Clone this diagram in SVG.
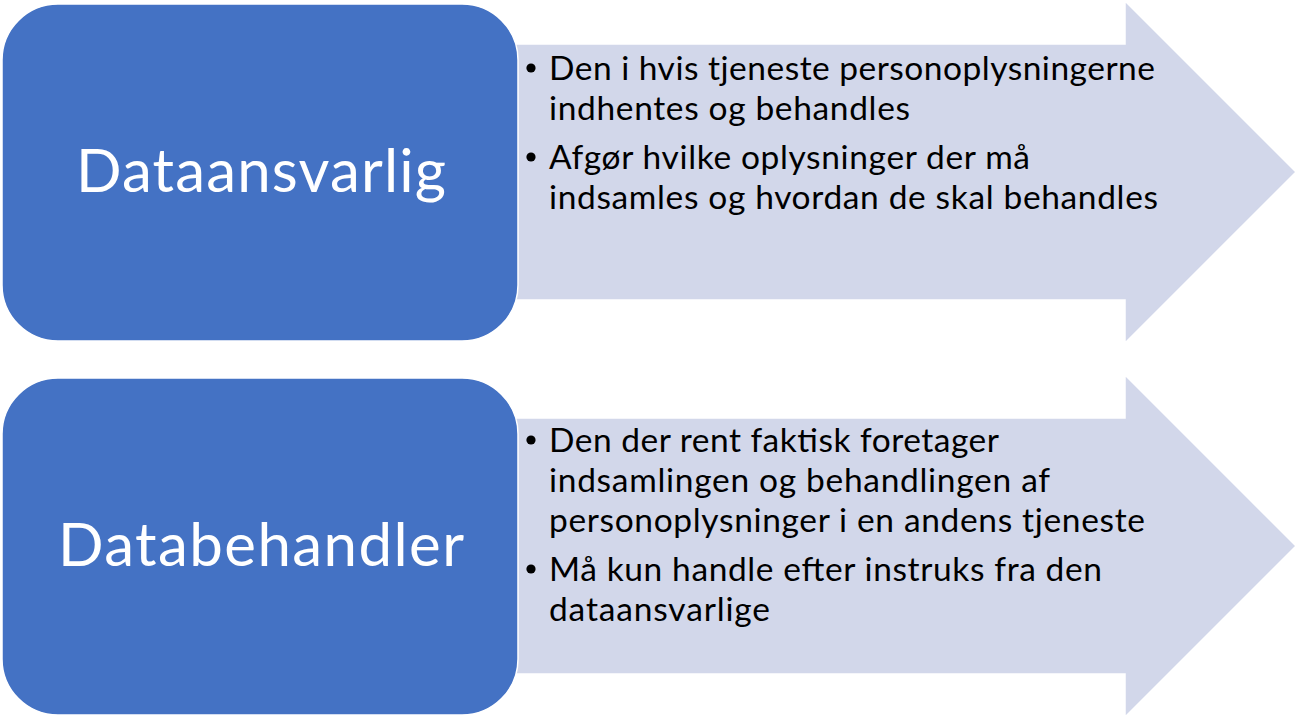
<svg xmlns="http://www.w3.org/2000/svg" width="1297" height="719" viewBox="0 0 1297 719">
<style>
.arrow{fill:#D2D7EA;stroke:#FFFFFF;stroke-width:1.5}
.box{fill:#4472C4;stroke:#FFFFFF;stroke-width:1.5}
.title{font-family:Lato,"Liberation Sans",sans-serif;font-size:60px;fill:#FFFFFF;text-anchor:middle}
.body{font-family:Lato,"Liberation Sans",sans-serif;font-size:33.5px;fill:#000000}
.bullet{fill:#000000}
</style>
<rect width="1297" height="719" fill="#FFFFFF"/>
<g id="connectors">
<polygon class="arrow" points="460,44 1125,44 1125,1 1296,172 1125,343 1125,300 460,300"/>
<polygon class="arrow" points="460,418 1125,418 1125,375 1296,546 1125,717 1125,674 460,674"/>
</g>
<g id="node-dataansvarlig">
<rect class="box" x="2" y="4" width="516" height="337" rx="56" ry="56"/>
<text class="title" x="261" y="192" textLength="370">Dataansvarlig</text>
</g>
<g id="node-dataansvarlig-text">
<circle class="bullet" cx="531" cy="68" r="4.6"/>
<text class="body" x="549" y="80" textLength="606">Den i hvis tjeneste personoplysningerne</text>
<text class="body" x="549" y="120" textLength="361">indhentes og behandles</text>
<circle class="bullet" cx="531" cy="157" r="4.6"/>
<text class="body" x="549" y="169" textLength="481">Afgør hvilke oplysninger der må</text>
<text class="body" x="549" y="209" textLength="609">indsamles og hvordan de skal behandles</text>
</g>
<g id="node-databehandler">
<rect class="box" x="2" y="378" width="516" height="337" rx="56" ry="56"/>
<text class="title" x="261" y="566" textLength="406">Databehandler</text>
</g>
<g id="node-databehandler-text">
<circle class="bullet" cx="531" cy="440" r="4.6"/>
<text class="body" x="549" y="452" textLength="450">Den der rent faktisk foretager</text>
<text class="body" x="549" y="492" textLength="501">indsamlingen og behandlingen af</text>
<text class="body" x="549" y="532" textLength="596">personoplysninger i en andens tjeneste</text>
<circle class="bullet" cx="531" cy="569" r="4.6"/>
<text class="body" x="549" y="581" textLength="553">Må kun handle efter instruks fra den</text>
<text class="body" x="549" y="621" textLength="221">dataansvarlige</text>
</g>
</svg>
